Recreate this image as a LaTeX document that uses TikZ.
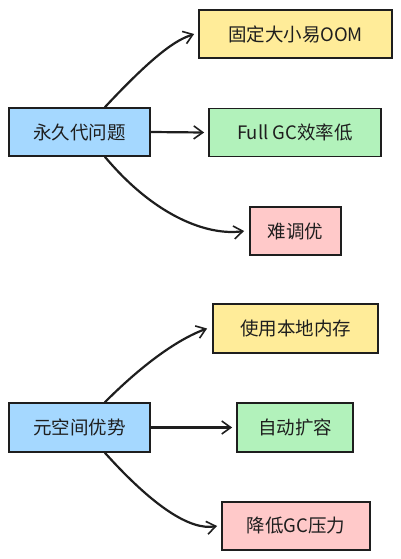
\documentclass[tikz,border=0pt]{standalone}
\usepackage{fontspec}
\setmainfont{Noto Sans CJK SC}
\usetikzlibrary{arrows.meta}
\definecolor{cblue}{HTML}{A5D8FF}
\definecolor{cyellow}{HTML}{FFEC99}
\definecolor{cgreen}{HTML}{B2F2BB}
\definecolor{cpink}{HTML}{FFC9C9}
\definecolor{ink}{HTML}{1E1E1E}
\tikzset{
  box/.style={draw=ink, line width=1.8pt, inner sep=0pt, font=\fontsize{18.5}{20}\selectfont, text=ink},
  conn/.style={draw=ink, line width=2.2pt, line cap=round, -{Straight Barb[length=9pt,width=13pt,line width=1.6pt]}},
}
\begin{document}
\begin{tikzpicture}[x=1pt,y=-1pt]
\useasboundingbox (0,0) rectangle (401,559);
% top group
\node[box, fill=cblue, minimum width=141pt, minimum height=48pt] (p) at (79.5,132) {永久代问题};
\node[box, fill=cyellow, minimum width=193pt, minimum height=48pt] (p1) at (295.5,34) {固定大小易OOM};
\node[box, fill=cgreen, minimum width=172pt, minimum height=48pt] (p2) at (295,132.5) {Full GC效率低};
\node[box, fill=cpink, minimum width=91pt, minimum height=48pt] (p3) at (295.5,231) {难调优};
\draw[conn] ([xshift=25.5pt]p.north) .. controls +(47:85pt) and +(200:14pt) .. ([xshift=-4pt]p1.west);
\draw[conn] (p.east) -- ([xshift=-4pt]p2.west);
\draw[conn] ([xshift=25.5pt]p.south) .. controls +(-50:80pt) and +(188:35pt) .. ([xshift=-5pt]p3.west);
% bottom group
\node[box, fill=cblue, minimum width=141pt, minimum height=49pt] (m) at (79.5,427.5) {元空间优势};
\node[box, fill=cyellow, minimum width=165pt, minimum height=49pt] (m1) at (295.5,328.5) {使用本地内存};
\node[box, fill=cgreen, minimum width=116pt, minimum height=49pt] (m2) at (295,427.5) {自动扩容};
\node[box, fill=cpink, minimum width=148pt, minimum height=48pt] (m3) at (296,526) {降低GC压力};
\draw[conn] ([xshift=25.5pt]m.north) .. controls +(45:75pt) and +(200:16pt) .. ([xshift=-5pt]m1.west);
\draw[conn] (m.east) -- ([xshift=-4pt]m2.west);
\draw[conn] ([xshift=25.5pt]m.south) .. controls +(-48:70pt) and +(190:28pt) .. ([xshift=-4pt]m3.west);
\end{tikzpicture}
\end{document}
